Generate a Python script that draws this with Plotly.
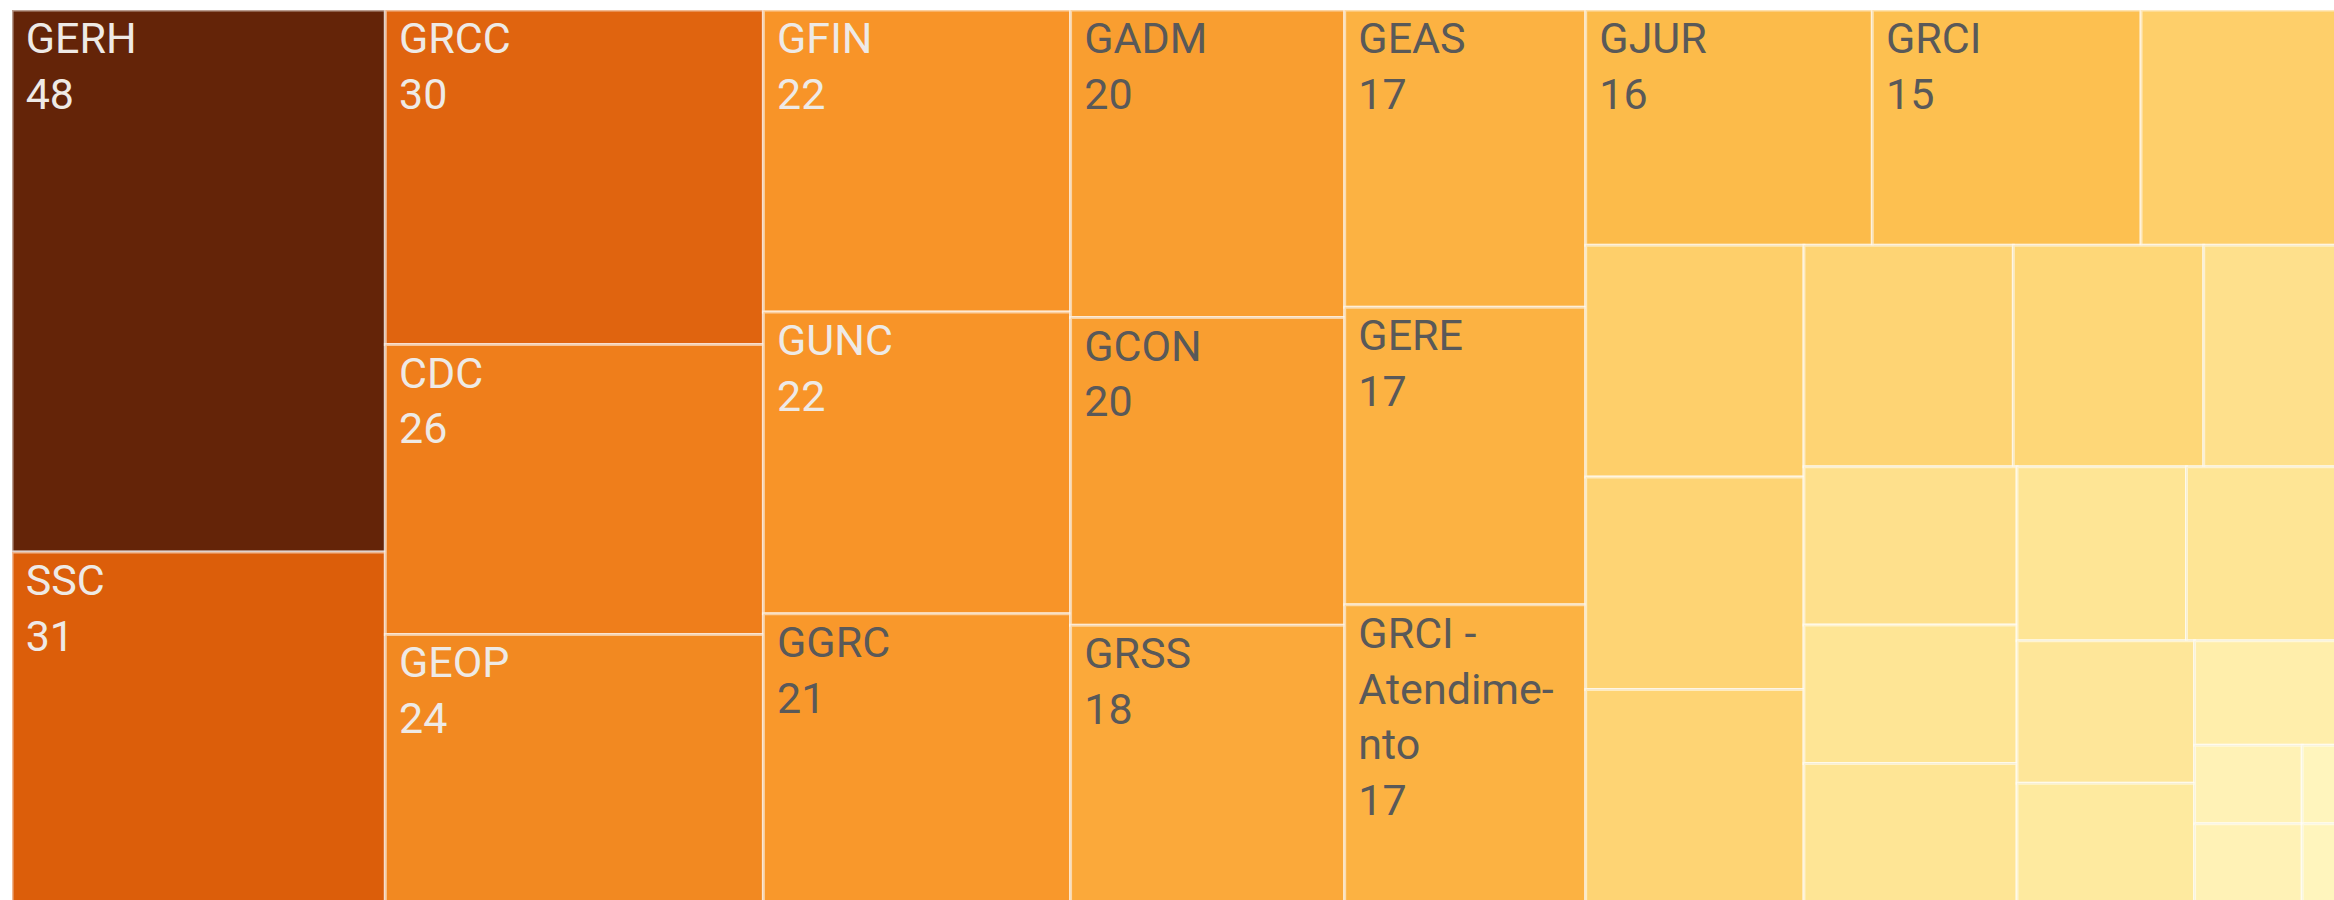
import plotly.graph_objects as go

# ---- data ----
labels = [
    "GERH", "SSC", "GRCC", "CDC", "GEOP", "GFIN", "GUNC", "GGRC",
    "GADM", "GCON", "GRSS", "GEAS", "GERE", "GRCI - Atendimento",
    "GJUR", "GRCI",
    "Outros 01", "Outros 02", "Outros 03", "Outros 04", "Outros 05",
    "Outros 06", "Outros 07", "Outros 08", "Outros 09", "Outros 10",
    "Outros 11", "Outros 12", "Outros 13", "Outros 14", "Outros 15",
    "Outros 16", "Outros 17", "Outros 18", "Outros 19",
]
values = [
    48, 31, 30, 26, 24, 22, 22, 21,
    20, 20, 18, 17, 17, 17,
    16, 15,
    12, 12, 11, 11, 11,
    10, 8, 8, 7, 7,
    7, 7, 6, 5, 4,
    2, 2, 1, 1,
]
# tiles whose label is printed in the reference (others are unlabeled)
labeled = ["GERH", "SSC", "GRCC", "CDC", "GEOP", "GFIN", "GUNC", "GGRC",
           "GADM", "GCON", "GRSS", "GEAS", "GERE", "GRCI - Atendimento",
           "GJUR", "GRCI"]
# how the long label wraps inside its tile
wrapped = {"GRCI - Atendimento": ["GRCI -", "Atendime-", "nto"]}

# ---- styling ----
color_stops_v = [1, 2, 4, 5, 6, 7, 8, 10, 11, 12, 15, 16, 17, 18, 20, 21, 22, 24, 26, 30, 31, 48]
color_stops_c = ["#fff5bd", "#fff2b6", "#ffeeab", "#feea9f", "#fee699", "#fee595",
                 "#fee08c", "#fed778", "#fed474", "#fecf6a", "#fdc050", "#fcbb4a",
                 "#fcb242", "#fba93a", "#f99e30", "#f9982b", "#f89428", "#f28921",
                 "#ef7e1b", "#e0640f", "#dc5e0a", "#642408"]
vmin, vmax = min(values), max(values)
colorscale = [[(v - vmin) / (vmax - vmin), c] for v, c in zip(color_stops_v, color_stops_c)]

INDENT = "\u00a0"  # small left inset of the tile captions
texts = []
text_colors = []
for lab, val in zip(labels, values):
    if lab in labeled:
        lines = wrapped.get(lab, [lab]) + [str(val)]
        texts.append("<br>".join(INDENT + ln for ln in lines))
    else:
        texts.append("")
    text_colors.append("#eeeae6" if val >= 22 else "#595959")

fig = go.Figure(
    go.Treemap(
        labels=labels,
        parents=[""] * len(labels),
        values=values,
        text=texts,
        texttemplate="%{text}",
        textposition="top left",
        textfont=dict(family="Roboto, Liberation Sans, sans-serif", size=43, color=text_colors),
        sort=True,
        tiling=dict(packing="squarify", squarifyratio=1, pad=0),
        marker=dict(
            colors=values,
            colorscale=colorscale,
            cmin=vmin,
            cmax=vmax,
            showscale=False,
            line=dict(width=3, color="rgba(255,255,255,0.55)"),
            pad=dict(t=0, l=0, r=0, b=0),
        ),
        pathbar=dict(visible=False),
        hoverinfo="label+value",
    )
)

fig.update_layout(
    width=2356,
    height=902,
    margin=dict(l=12, r=0, t=10, b=0),
    paper_bgcolor="white",
    plot_bgcolor="white",
)

fig.write_html(
    "out.html",
    config={"displayModeBar": False},
    post_script="document.body.style.margin='0';document.body.style.overflow='hidden';document.documentElement.style.overflow='hidden';",
)
